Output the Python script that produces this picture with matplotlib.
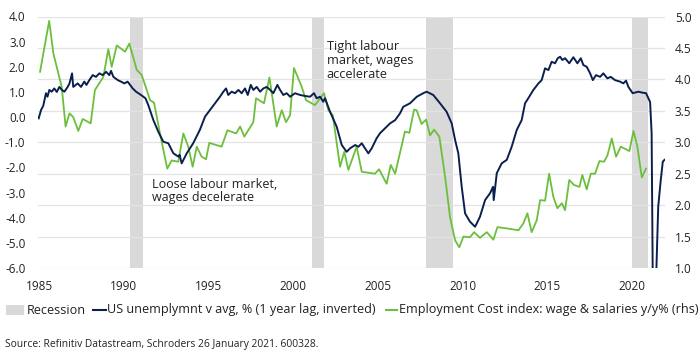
import matplotlib
matplotlib.use("Agg")
import matplotlib.pyplot as plt
from matplotlib.patches import Rectangle
from matplotlib.lines import Line2D

plt.rcParams['font.family'] = ['Open Sans', 'DejaVu Sans']

# ---------------- data ----------------
unemp_years = [1984.98, 1985.12, 1985.25, 1985.41, 1985.5, 1985.61, 1985.75, 1985.9, 1986.05, 1986.2,
               1986.35, 1986.5, 1986.69, 1986.8, 1986.95, 1987.02, 1987.28, 1987.48, 1987.67, 1987.8,
               1987.97, 1988.17, 1988.36, 1988.56, 1988.76, 1988.96, 1989.15, 1989.25, 1989.39, 1989.65,
               1989.84, 1990.04, 1990.23, 1990.53, 1990.73, 1991.02, 1991.28, 1991.45, 1991.75, 1992.04,
               1992.34, 1992.63, 1992.93, 1993.22, 1993.3, 1993.42, 1993.72, 1994.1, 1994.5, 1994.8,
               1995.09, 1995.39, 1995.68, 1995.88, 1996.04, 1996.17, 1996.37, 1996.57, 1996.77, 1996.96,
               1997.16, 1997.32, 1997.5, 1997.65, 1997.85, 1998.05, 1998.24, 1998.44, 1998.64, 1998.83,
               1999.07, 1999.23, 1999.42, 1999.62, 1999.82, 2000.11, 2000.41, 2000.7, 2001.0, 2001.23,
               2001.39, 2001.59, 2001.78, 2001.88, 2002.18, 2002.57, 2002.87, 2003.16, 2003.36, 2003.66,
               2003.85, 2004.05, 2004.24, 2004.44, 2004.64, 2004.93, 2005.13, 2005.42, 2005.72, 2006.02,
               2006.31, 2006.5, 2006.9, 2007.3, 2007.68, 2007.88, 2008.27, 2008.67, 2009.06, 2009.36,
               2009.56, 2009.75, 2009.95, 2010.15, 2010.44, 2010.74, 2011.03, 2011.33, 2011.62, 2011.8,
               2011.84, 2012.02, 2012.31, 2012.61, 2012.9, 2013.2, 2013.49, 2013.69, 2013.88, 2014.18,
               2014.48, 2014.67, 2014.87, 2015.07, 2015.26, 2015.46, 2015.62, 2015.76, 2015.89, 2016.05,
               2016.3, 2016.54, 2016.78, 2016.98, 2017.13, 2017.33, 2017.53, 2017.69, 2017.88, 2018.12,
               2018.31, 2018.55, 2018.75, 2019.0, 2019.3, 2019.49, 2019.65, 2019.79, 2020.04, 2020.38,
               2020.63, 2020.83, 2020.97, 2021.07, 2021.16, 2021.28, 2021.4, 2021.55, 2021.7, 2021.82,
               2021.92]
unemp_vals = [-0.05, 0.28, 0.45, 0.95, 0.81, 1.08, 1.01, 1.14, 1.0, 1.2,
              1.08, 1.01, 1.2, 1.34, 1.74, 1.2, 1.34, 1.2, 1.41, 1.28,
              1.47, 1.67, 1.6, 1.74, 1.67, 1.8, 1.67, 1.84, 1.6, 1.47,
              1.41, 1.34, 1.41, 1.14, 1.01, 0.88, 0.75, 0.48, -0.12, -0.58,
              -0.98, -1.04, -1.44, -1.57, -1.5, -1.84, -1.44, -1.04, -0.5, 0.02,
              0.28, 0.55, 0.81, 1.01, 1.14, 0.88, 1.01, 0.95, 1.08, 0.95,
              1.14, 0.88, 1.28, 1.08, 1.2, 1.01, 1.14, 1.2, 1.08, 0.95,
              1.28, 1.08, 0.88, 0.95, 0.81, 0.95, 0.88, 0.84, 0.81, 0.95,
              0.75, 0.81, 0.61, 0.75, 0.21, -0.38, -1.11, -1.38, -1.24, -1.11,
              -1.18, -1.04, -1.24, -1.44, -1.24, -0.84, -0.64, -0.45, -0.25, -0.12,
              0.15, 0.41, 0.55, 0.81, 0.95, 1.01, 0.88, 0.55, 0.21, -0.25,
              -0.91, -1.44, -2.77, -3.83, -4.16, -4.36, -3.96, -3.3, -3.03, -2.77,
              -3.3, -2.23, -1.84, -1.7, -1.18, -0.51, -0.12, 0.55, 0.75, 1.08,
              1.34, 1.47, 1.94, 1.87, 2.2, 2.14, 2.34, 2.4, 2.27, 2.34,
              2.14, 2.38, 2.14, 2.34, 2.07, 2.0, 1.74, 1.47, 1.67, 1.6,
              1.74, 1.54, 1.6, 1.47, 1.41, 1.34, 1.45, 1.2, 0.95, 1.01,
              0.97, 0.95, 0.75, 0.6, -0.64, -11.0, -7.0, -3.56, -2.5, -1.77,
              -1.7]

eci_years = [1985.06, 1985.6, 1985.85, 1986.34, 1986.57, 1986.8, 1987.02, 1987.32, 1987.58, 1988.05,
             1988.3, 1988.8, 1989.09, 1989.29, 1989.59, 1990.08, 1990.33, 1990.77, 1991.06, 1991.36,
             1991.55, 1991.79, 1992.14, 1992.57, 1992.83, 1993.22, 1993.52, 1993.81, 1994.07, 1994.31,
             1994.6, 1994.86, 1995.05, 1995.78, 1996.12, 1996.63, 1996.87, 1997.12, 1997.65, 1997.81,
             1998.28, 1998.6, 1999.03, 1999.33, 1999.58, 1999.82, 2000.05, 2000.51, 2000.76, 2001.29,
             2001.82, 2002.08, 2002.34, 2002.77, 2003.02, 2003.26, 2003.75, 2004.05, 2004.83, 2005.07,
             2005.52, 2005.76, 2006.02, 2006.6, 2006.86, 2007.14, 2007.29, 2007.58, 2007.85, 2008.08,
             2008.32, 2008.63, 2008.97, 2009.26, 2009.56, 2009.81, 2010.05, 2010.44, 2010.68, 2011.03,
             2011.43, 2011.82, 2012.06, 2012.61, 2013.3, 2013.59, 2013.83, 2014.08, 2014.38, 2014.58,
             2014.87, 2015.11, 2015.36, 2015.6, 2015.86, 2016.05, 2016.3, 2016.58, 2016.9, 2017.07,
             2017.33, 2017.57, 2017.82, 2018.08, 2018.35, 2018.55, 2018.81, 2019.06, 2019.34, 2019.85,
             2020.09, 2020.32, 2020.58, 2020.83]
eci_vals = [4.12, 4.93, 4.41, 3.88, 3.25, 3.46, 3.4, 3.18, 3.37, 3.3,
            3.83, 4.04, 4.48, 4.2, 4.54, 4.44, 4.57, 4.15, 4.07, 3.83,
            3.67, 3.63, 3.14, 2.58, 2.71, 2.69, 3.14, 2.93, 2.61, 2.93,
            2.77, 2.73, 2.99, 2.93, 3.19, 3.14, 3.25, 3.09, 3.32, 3.7,
            3.62, 4.03, 3.25, 3.51, 3.32, 3.43, 4.18, 3.88, 3.67, 3.59,
            3.78, 3.51, 3.43, 2.61, 2.85, 2.56, 2.93, 2.53, 2.5, 2.57,
            2.34, 2.64, 2.5, 3.17, 3.15, 3.52, 3.51, 3.29, 3.36, 3.11,
            3.2, 3.09, 2.45, 1.81, 1.44, 1.33, 1.5, 1.49, 1.57, 1.48,
            1.57, 1.45, 1.65, 1.63, 1.6, 1.71, 1.87, 1.57, 1.76, 2.08,
            2.07, 2.5, 2.13, 1.95, 2.03, 1.92, 2.4, 2.32, 2.29, 2.48,
            2.25, 2.5, 2.5, 2.7, 2.69, 2.79, 3.06, 2.77, 2.93, 2.86,
            3.18, 2.93, 2.44, 2.58]

recession_starts = [1990.37, 2001.12, 2007.85, 2020.0]
recession_ends = [1991.14, 2001.82, 2009.44, 2020.95]

x_ticks = [1985, 1990, 1995, 2000, 2005, 2010, 2015, 2020]
left_ticks = [4.0, 3.0, 2.0, 1.0, 0.0, -1.0, -2.0, -3.0, -4.0, -5.0, -6.0]
right_ticks = [5.0, 4.5, 4.0, 3.5, 3.0, 2.5, 2.0, 1.5, 1.0]

# ---------------- style ----------------
NAVY = '#0b1f4f'
GREEN = '#6cbf3c'
GREY = '#d9d9d9'
GRID = '#e3e3e3'
TXT = '#222222'

W, H = 700, 357
fig = plt.figure(figsize=(W / 100, H / 100), dpi=100)
L, R, T, B = 38, 665, 16.5, 268
ax2 = fig.add_axes([L / W, 1 - B / H, (R - L) / W, (B - T) / H])
ax = ax2.twinx()

ax2.set_xlim(1984.94, 2021.95)
ax2.set_ylim(1.0, 5.0)
ax.set_ylim(-6.0, 4.0)

for s, e in zip(recession_starts, recession_ends):
    ax2.axvspan(s, e, color=GREY, lw=0, zorder=0)
ax2.set_yticks(right_ticks)
ax2.set_yticklabels([f'{v:.1f}' for v in right_ticks])
ax2.grid(axis='y', color=GRID, lw=0.9, zorder=0.5)
ax2.set_axisbelow(True)
ax2.plot(eci_years, eci_vals, color=GREEN, lw=1.3, zorder=3)

ax.plot(unemp_years, unemp_vals, color=NAVY, lw=1.4, zorder=4)
ax.set_yticks(left_ticks)
ax.set_yticklabels([f'{v:.1f}' for v in left_ticks])

ax.set_zorder(ax2.get_zorder() + 1)
ax.patch.set_visible(False)

ax.yaxis.tick_left()
ax2.yaxis.tick_right()
for a in (ax, ax2):
    for sp in a.spines.values():
        sp.set_visible(False)
ax.tick_params(axis='y', length=0, pad=9, labelsize=8.5, labelcolor=TXT)
ax2.tick_params(axis='y', length=0, pad=7, labelsize=8.5, labelcolor=TXT)
ax2.set_xticks(x_ticks)
ax2.set_xticklabels([str(t) for t in x_ticks])
ax2.tick_params(axis='x', length=0, pad=9, labelsize=8.5, labelcolor=TXT)
ax.tick_params(axis='x', length=0, labelbottom=False)

ax.text(1991.65, -2.42, 'Loose labour market,\nwages decelerate', fontsize=9.0,
        color=TXT, va='top', ha='left', linespacing=1.05)
ax.text(2001.99, 3.07, 'Tight labour\nmarket, wages\naccelerate', fontsize=9.2,
        color=TXT, va='top', ha='left', linespacing=1.1)

# legend (manual, figure pixel coordinates)
ly = 1 - 310 / H
fig.patches.append(Rectangle((6 / W, ly - 5 / H), 18 / W, 10 / H, transform=fig.transFigure,
                             facecolor=GREY, edgecolor='none'))
fig.text(27 / W, ly, 'Recession', fontsize=9.1, color=TXT, va='center', ha='left')
fig.lines.append(Line2D([93 / W, 106 / W], [ly, ly], transform=fig.transFigure, color=NAVY, lw=1.5))
fig.text(107 / W, ly, 'US unemplymnt v avg, % (1 year lag, inverted)', fontsize=9.1,
         color=TXT, va='center', ha='left')
fig.lines.append(Line2D([386 / W, 397 / W], [ly, ly], transform=fig.transFigure, color=GREEN, lw=1.5))
fig.text(399 / W, ly, 'Employment Cost index: wage & salaries y/y% (rhs)', fontsize=9.1,
         color=TXT, va='center', ha='left')

fig.text(5 / W, 1 - 345 / H, 'Source: Refinitiv Datastream, Schroders 26 January 2021. 600328.',
         fontsize=7.4, color=TXT, va='center', ha='left')

fig.savefig('out.png', dpi=100)
